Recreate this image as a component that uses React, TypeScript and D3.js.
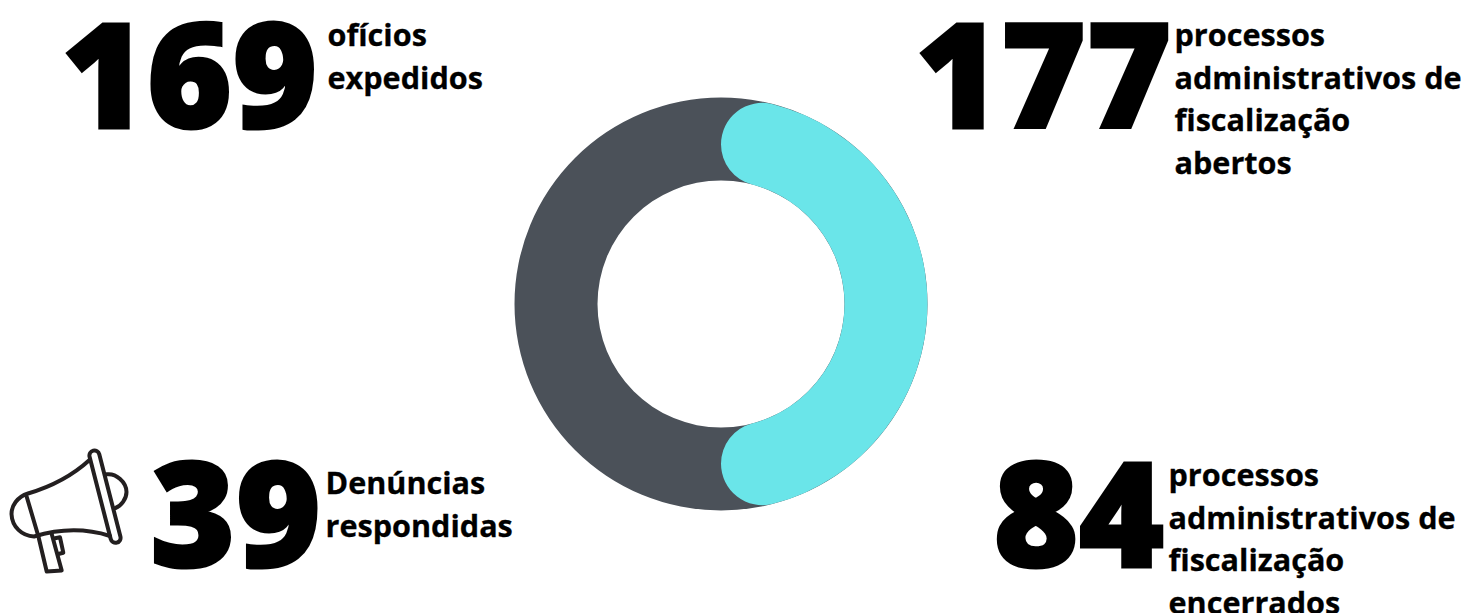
import React from "react";
import * as d3 from "d3";

const donutValues = [50, 50];
const donutColors = ["#6ae5e9", "#4b5159"];
const font = "'Open Sans', sans-serif";

const bigNumbers = [
  { t: "169", x: 61.5, y: 128 },
  { t: "177", x: 915.5, y: 128 },
  { t: "39", x: 150.5, y: 567 },
  { t: "84", x: 993.5, y: 567 },
];
const labels = [
  { x: 327.5, y: 46, lines: ["ofícios", "expedidos"] },
  { x: 1174.5, y: 46, lines: ["processos", "administrativos de", "fiscalização", "abertos"] },
  { x: 325.5, y: 494, lines: ["Denúncias", "respondidas"] },
  { x: 1168.5, y: 486, lines: ["processos", "administrativos de", "fiscalização", "encerrados"] },
];

export default function App() {
  const cx = 721, cy = 304, ro = 206.5, ri = 123.5;
  const pie = d3.pie<number>().sort(null).startAngle(0).endAngle(2 * Math.PI)(donutValues);
  const arc = d3.arc<d3.PieArcDatum<number>>().innerRadius(ri).outerRadius(ro);
  const round = d3.arc<d3.PieArcDatum<number>>().innerRadius(ri).outerRadius(ro).cornerRadius((ro - ri) / 2);
  return (
    <svg width={1467} height={613} style={{ position: "absolute", left: 0, top: 0 }}>
      <rect width={1467} height={613} fill="#fff" />
      <g transform={`translate(${cx},${cy})`}>
        <path d={arc(pie[1])!} fill={donutColors[1]} />
        <path d={arc(pie[0])!} fill={donutColors[1]} />
        <path d={round(pie[0])!} fill={donutColors[0]} />
      </g>
      {bigNumbers.map((b) => (
        <text key={b.t} x={b.x} y={b.y} fontFamily={font} fontWeight={800} fontSize={145} letterSpacing={0.5} fill="#000" stroke="#000" strokeWidth={3}>{b.t}</text>
      ))}
      {labels.map((l) =>
        l.lines.map((s, i) => (
          <text key={l.x + s} x={l.x} y={l.y + i * 42.5} fontFamily={font} fontWeight={700} fontSize={30.6} fill="#000" stroke="#000" strokeWidth={0.3}>{s}</text>
        ))
      )}
      <g fill="none" stroke="#231f20" strokeWidth={4} strokeLinejoin="round" strokeLinecap="round">
        <path d="M89.5 460 C72 476 50 487 28 493.5 C17 497 11.5 506 11.5 514 C12 527 22 536 34 536.5 C62 528 88 529 110 536" />
        <path d="M26.7 496.7 L38.3 536" />
        <path d="M38.3 536 L46.7 571.5 L61.7 570.5 L51.7 534" />
        <path d="M55 538.3 L60 537.3 L63.3 552.7 L58.3 554" />
        <path d="M106.7 474.3 C116 473 126.5 482 126.5 492 C126.5 499 121 506 115.5 508" />
        <rect x={-5} y={-4.5} width={10} height={95} rx={5} transform="translate(94.3,455) rotate(-14.4)" />
      </g>
    </svg>
  );
}
